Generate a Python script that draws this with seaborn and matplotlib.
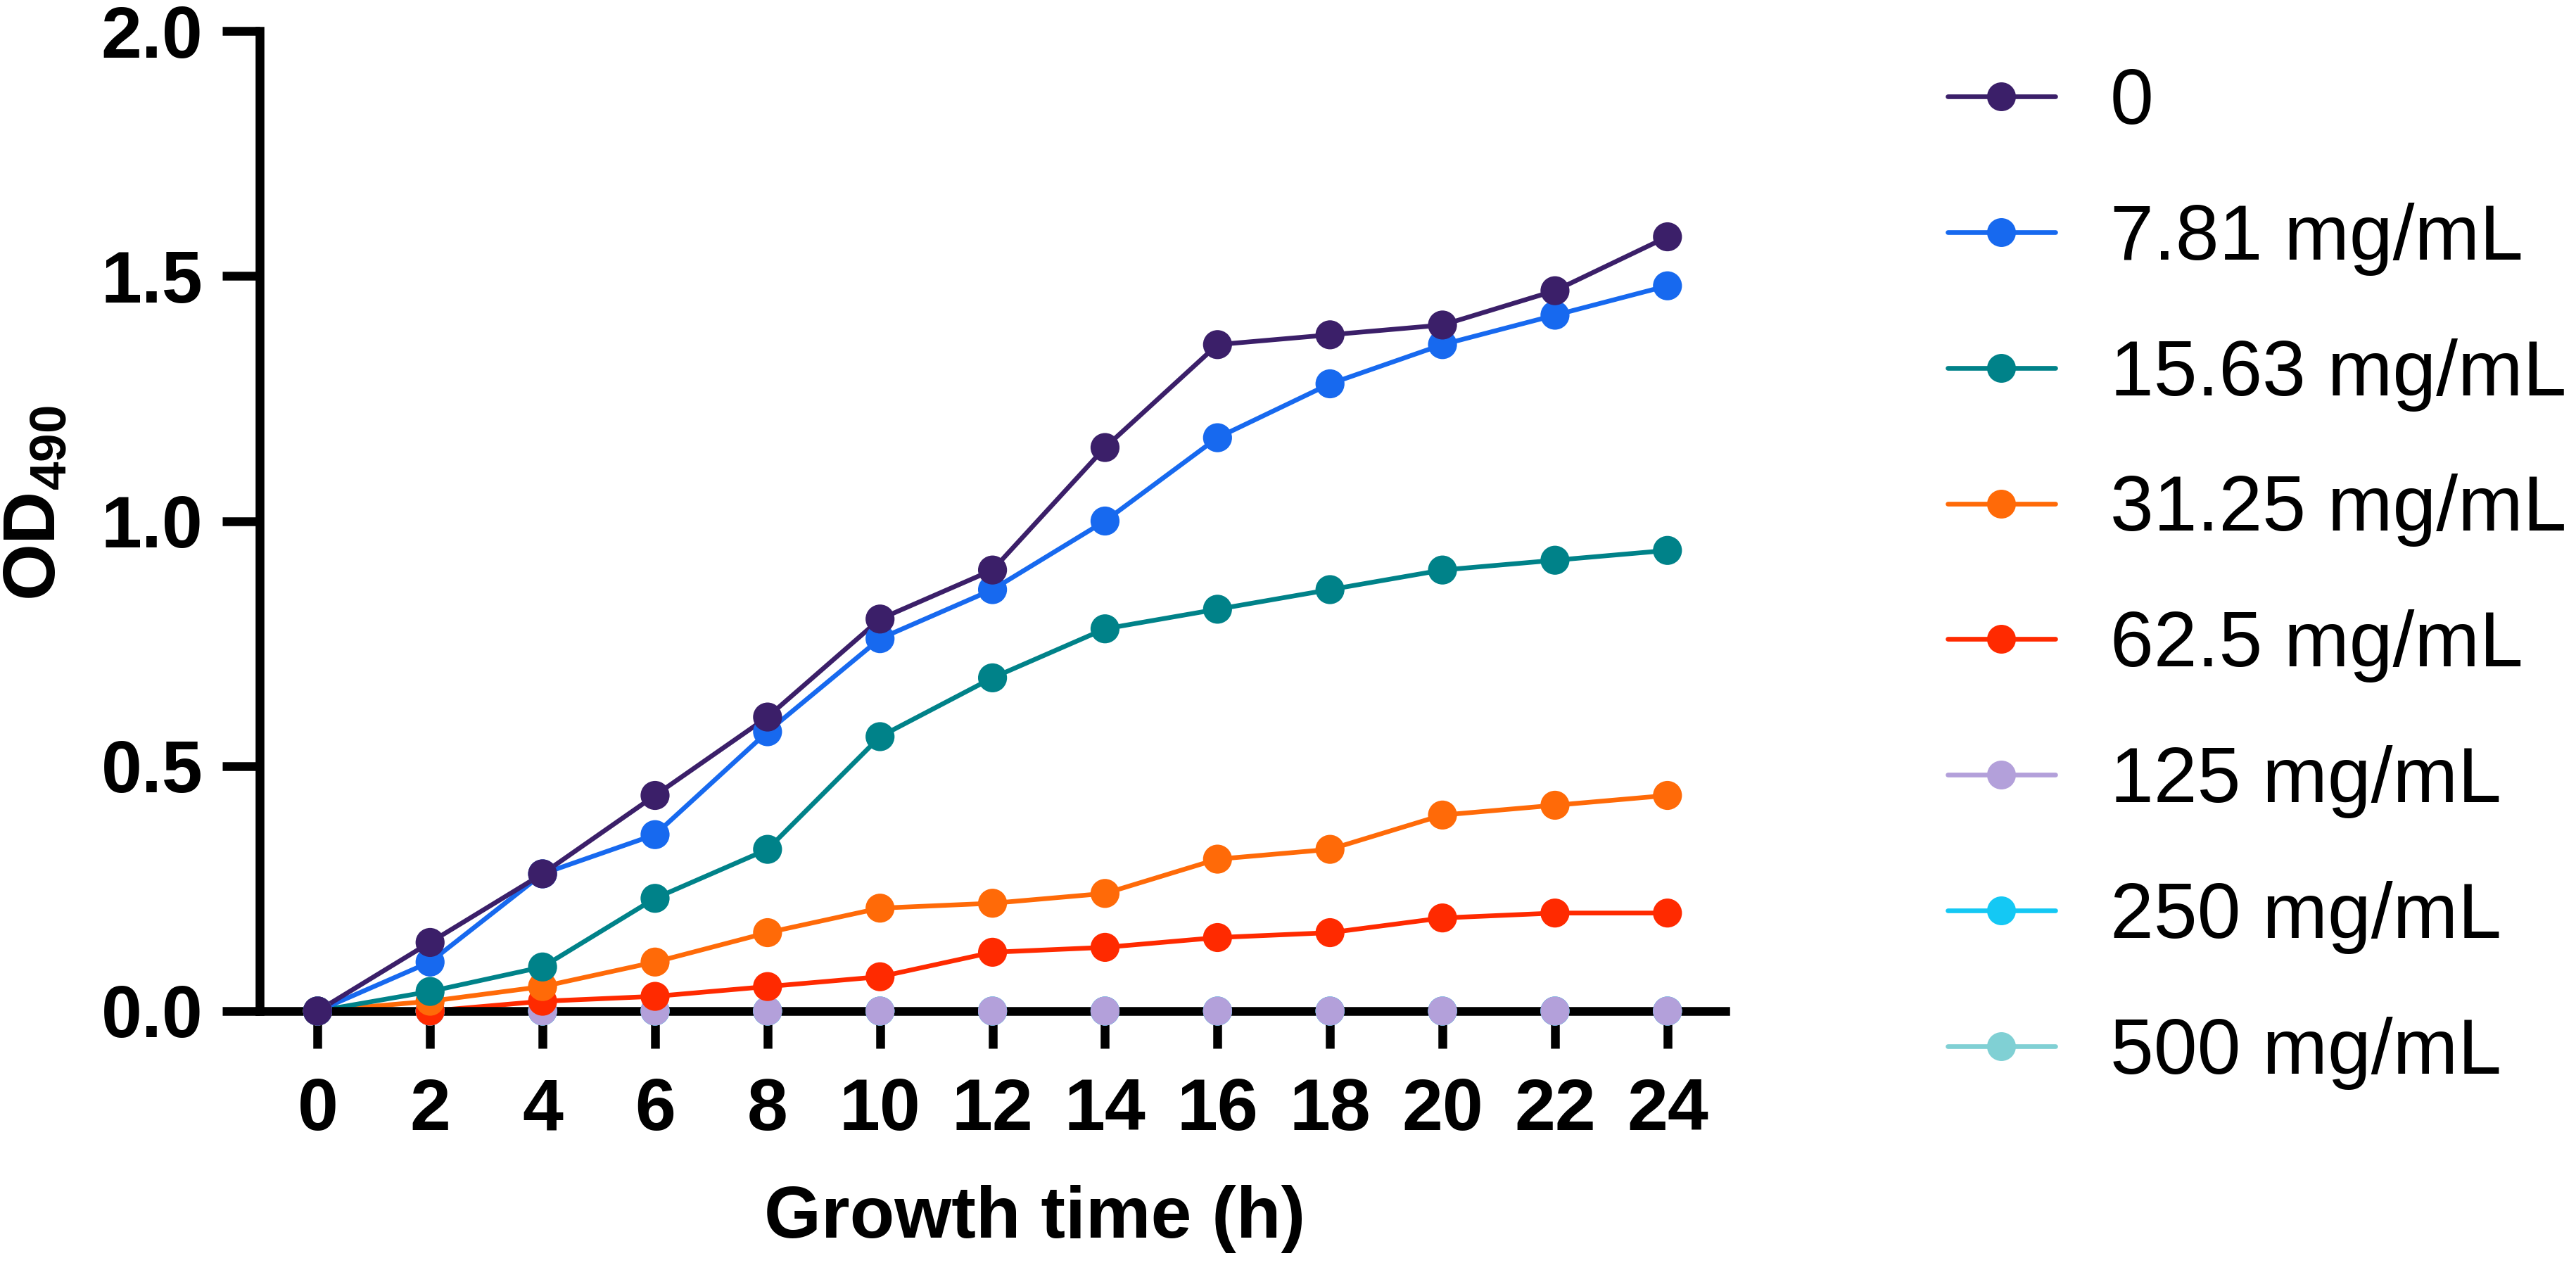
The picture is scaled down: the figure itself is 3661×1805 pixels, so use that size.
import pandas as pd
import matplotlib
matplotlib.use('Agg')
import matplotlib.pyplot as plt
from matplotlib.lines import Line2D
import seaborn as sns

# Growth time points (h)
hours = [0, 2, 4, 6, 8, 10, 12, 14, 16, 18, 20, 22, 24]

# OD490 per concentration
od_0 = [0, 0.14, 0.28, 0.44, 0.60, 0.80, 0.90, 1.15, 1.36, 1.38, 1.40, 1.47, 1.58]
od_781 = [0, 0.10, 0.28, 0.36, 0.57, 0.76, 0.86, 1.00, 1.17, 1.28, 1.36, 1.42, 1.48]
od_1563 = [0, 0.04, 0.09, 0.23, 0.33, 0.56, 0.68, 0.78, 0.82, 0.86, 0.90, 0.92, 0.94]
od_3125 = [0, 0.02, 0.05, 0.10, 0.16, 0.21, 0.22, 0.24, 0.31, 0.33, 0.40, 0.42, 0.44]
od_625 = [0, 0.00, 0.02, 0.03, 0.05, 0.07, 0.12, 0.13, 0.15, 0.16, 0.19, 0.20, 0.20]
od_125 = [0, 0, 0, 0, 0, 0, 0, 0, 0, 0, 0, 0, 0]
od_250 = [0, 0, 0, 0, 0, 0, 0, 0, 0, 0, 0, 0, 0]
od_500 = [0, 0, 0, 0, 0, 0, 0, 0, 0, 0, 0, 0, 0]

labels = ['0', '7.81 mg/mL', '15.63 mg/mL', '31.25 mg/mL', '62.5 mg/mL',
          '125 mg/mL', '250 mg/mL', '500 mg/mL']
series = [od_0, od_781, od_1563, od_3125, od_625, od_125, od_250, od_500]
colors = ['#3b1f69', '#1769ef', '#008289', '#ff6a08', '#ff2a00',
          '#b3a0da', '#14c8f4', '#80d0d4']
palette = dict(zip(labels, colors))

# long table, drawn from the last concentration to the first so 0 ends on top
rows = []
for lab, vals in reversed(list(zip(labels, series))):
    for h, v in zip(hours, vals):
        rows.append({'Growth time (h)': h, 'OD490': v, 'Concentration': lab})
df = pd.DataFrame(rows)

sns.set_style('ticks')
plt.rcParams['font.family'] = ['Liberation Sans', 'DejaVu Sans']
plt.rcParams['mathtext.fontset'] = 'custom'
plt.rcParams['mathtext.rm'] = 'Liberation Sans'
plt.rcParams['mathtext.bf'] = 'Liberation Sans:bold'
for key in ['text.color', 'axes.labelcolor', 'axes.edgecolor',
            'xtick.color', 'ytick.color']:
    plt.rcParams[key] = 'black'

fig = plt.figure(figsize=(36.61, 18.05), dpi=100)
ax = fig.add_axes([0.1008, 0.2039, 0.569, 0.7717])

sns.lineplot(data=df, x='Growth time (h)', y='OD490', hue='Concentration',
             hue_order=labels[::-1], palette=palette, linewidth=4.8,
             legend=False, ax=ax, zorder=2)
sns.scatterplot(data=df, x='Growth time (h)', y='OD490', hue='Concentration',
                palette=palette, s=880, linewidth=0, legend=False, ax=ax,
                zorder=4, clip_on=False)

ax.set_xlim(-1.03, 25.03)
ax.set_ylim(0, 2.0)
ax.set_xticks(range(0, 25, 2))
ax.set_yticks([0, 0.5, 1.0, 1.5, 2.0])
ax.set_yticklabels(['0.0', '0.5', '1.0', '1.5', '2.0'])

sns.despine(ax=ax)
for side in ['left', 'bottom']:
    ax.spines[side].set_linewidth(9)
    ax.spines[side].set_color('black')
    ax.spines[side].set_zorder(3)
ax.tick_params(axis='both', direction='out', length=38, width=9,
               labelsize=75, color='black', labelcolor='black')
ax.tick_params(axis='x', pad=30)
ax.tick_params(axis='y', pad=20)
for t in ax.get_xticklabels() + ax.get_yticklabels():
    t.set_fontweight('bold')

ax.set_xlabel('Growth time (h)', fontsize=75, fontweight='bold', color='black')
ax.xaxis.set_label_coords(0.529, -0.177)
ax.set_ylabel(r'$\mathbf{OD_{490}}$', fontsize=75, color='black')
ax.yaxis.set_label_coords(-0.129, 0.518)

handles = [Line2D([0], [0], color=c, lw=4.8, marker='o', markersize=29.5,
                  markeredgewidth=0) for c in colors]
fig.legend(handles, labels, loc='upper left', bbox_to_anchor=(0.756, 0.9475),
           frameon=False, fontsize=80, handlelength=1.38, handletextpad=0.7,
           labelspacing=0.8, borderpad=0, borderaxespad=0, labelcolor='black')

fig.savefig('out.png', dpi=100, facecolor='white')
